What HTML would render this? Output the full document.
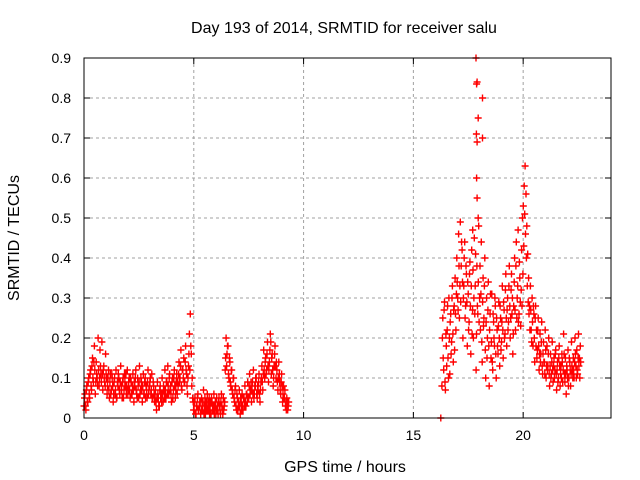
<!DOCTYPE html>
<html><head><meta charset="utf-8"><style>
html,body{margin:0;padding:0;background:#fff;}
svg{display:block;font-family:"Liberation Sans",sans-serif;}
</style></head><body>
<svg id="chart" width="640" height="480">
<text x="344" y="33" font-size="16" text-anchor="middle" fill="#000">Day 193 of 2014, SRMTID for receiver salu</text>
<text x="345" y="472" font-size="16" text-anchor="middle" fill="#000">GPS time / hours</text>
<text transform="translate(19,238) rotate(-90)" font-size="16" text-anchor="middle" fill="#000">SRMTID / TECUs</text>
<g id="grid"></g>
<g id="ticks"></g>
<g id="points"></g>
<rect x="84" y="58" width="527" height="360" fill="none" stroke="#000" stroke-width="1"/>
</svg>
<script>
const xTicks=[0,5,10,15,20];
const yTicks=[0,0.1,0.2,0.3,0.4,0.5,0.6,0.7,0.8,0.9];
const yTickLabels=["0","0.1","0.2","0.3","0.4","0.5","0.6","0.7","0.8","0.9"];
const seg1Range=[0.0,9.3];
const seg1Values=[
0.03,0.06,0.02,0.08,0.04,0.10,0.05,0.12,0.07,0.15,0.09,0.18,0.06,0.14,0.10,0.20,0.08,0.17,0.11,0.19,0.07,0.13,0.09,0.16,0.10,
0.08,0.12,0.05,0.11,0.07,0.10,0.04,0.09,0.06,0.12,0.05,0.08,0.10,0.06,0.13,0.07,0.09,0.05,0.11,0.08,0.06,0.12,0.07,0.10,0.05,
0.09,0.06,0.11,0.04,0.08,0.12,0.06,0.10,0.05,0.13,0.07,0.09,0.04,0.11,0.06,0.10,0.08,0.05,0.12,0.07,0.09,0.06,0.11,0.05,0.08,
0.04,0.07,0.02,0.09,0.05,0.03,0.08,0.06,0.10,0.04,0.07,0.12,0.05,0.09,0.13,0.06,0.11,0.08,0.04,0.10,0.07,0.12,0.05,0.09,0.06,
0.08,0.14,0.10,0.17,0.07,0.12,0.15,0.09,0.18,0.11,0.06,0.13,0.21,0.26,0.16,0.10,0.04,0.02,0.05,0.01,0.03,0.06,0.02,0.04,0.01,
0.05,0.02,0.07,0.03,0.01,0.04,0.06,0.02,0.05,0.03,0.01,0.04,0.02,0.06,0.03,0.01,0.05,0.02,0.04,0.03,0.01,0.06,0.02,0.05,0.03,
0.12,0.20,0.16,0.18,0.10,0.14,0.08,0.12,0.06,0.10,0.04,0.08,0.02,0.05,0.03,0.07,0.01,0.04,0.06,0.02,0.05,0.08,0.03,0.06,0.09,
0.05,0.11,0.07,0.04,0.09,0.12,0.06,0.08,0.10,0.05,0.07,0.11,0.04,0.09,0.13,0.07,0.17,0.10,0.15,0.12,0.19,0.09,0.14,0.21,0.11,
0.16,0.08,0.13,0.18,0.10,0.12,0.07,0.14,0.09,0.06,0.11,0.04,0.08,0.05,0.03,0.02,0.04,0.03
];
const seg1Values2=[
0.05,0.03,0.07,0.04,0.09,0.06,0.11,0.08,0.13,0.10,0.14,0.12,0.09,0.11,0.08,0.12,0.10,0.13,0.09,0.11,0.12,0.10,0.08,0.11,0.06,
0.10,0.07,0.09,0.06,0.11,0.08,0.06,0.10,0.07,0.05,0.09,0.11,0.07,0.09,0.08,0.05,0.10,0.07,0.09,0.11,0.08,0.06,0.09,0.07,0.10,
0.06,0.08,0.07,0.09,0.10,0.07,0.05,0.08,0.09,0.06,0.10,0.07,0.08,0.06,0.09,0.05,0.07,0.09,0.06,0.08,0.10,0.07,0.05,0.09,0.06,
0.06,0.04,0.05,0.06,0.03,0.07,0.05,0.04,0.06,0.08,0.05,0.07,0.09,0.06,0.08,0.10,0.07,0.06,0.09,0.05,0.10,0.08,0.07,0.11,0.09,
0.11,0.09,0.13,0.08,0.12,0.10,0.09,0.14,0.12,0.08,0.10,0.16,0.12,0.18,0.08,0.05,0.02,0.04,0.01,0.03,0.05,0.02,0.03,0.04,0.02,
0.03,0.04,0.01,0.05,0.03,0.02,0.04,0.03,0.01,0.04,0.05,0.02,0.03,0.01,0.04,0.02,0.03,0.01,0.05,0.02,0.04,0.03,0.01,0.02,0.04,
0.15,0.13,0.18,0.11,0.15,0.09,0.12,0.07,0.10,0.05,0.07,0.03,0.06,0.02,0.04,0.03,0.05,0.02,0.03,0.05,0.03,0.04,0.06,0.04,0.05,
0.08,0.06,0.09,0.07,0.06,0.05,0.08,0.10,0.06,0.08,0.09,0.06,0.07,0.10,0.09,0.11,0.12,0.14,0.11,0.16,0.13,0.12,0.17,0.19,0.15,
0.12,0.10,0.16,0.13,0.14,0.09,0.10,0.11,0.07,0.09,0.08,0.06,0.05,0.07,0.04,0.05,0.02,0.04
];
const seg2Range=[16.3,22.6];
const seg2Values=[
0.08,0.25,0.12,0.29,0.07,0.18,0.22,0.15,0.30,0.11,0.26,0.19,0.33,0.14,0.28,0.35,0.22,0.40,0.30,0.46,0.25,0.49,0.38,0.42,0.20,
0.33,0.44,0.28,0.36,0.18,0.31,0.24,0.39,0.16,0.42,0.27,0.20,0.45,0.33,0.12,0.38,0.26,0.48,0.30,0.22,0.44,0.14,0.35,0.25,0.40,
0.10,0.30,0.20,0.34,0.08,0.26,0.15,0.31,0.12,0.24,0.18,0.28,0.10,0.22,0.16,0.29,0.13,0.25,0.19,0.33,0.15,0.27,0.21,0.36,0.18,
0.30,0.24,0.38,0.20,0.32,0.26,0.16,0.28,0.40,0.22,0.44,0.30,0.47,0.26,0.35,0.23,0.42,0.50,0.53,0.58,0.63,0.56,0.48,0.41,0.35,
0.28,0.33,0.22,0.30,0.18,0.26,0.14,0.28,0.22,0.17,0.25,0.12,0.21,0.16,0.24,0.11,0.19,0.14,0.22,0.10,0.18,0.13,0.20,0.08,0.16,
0.11,0.19,0.09,0.15,0.12,0.17,0.07,0.14,0.10,0.18,0.08,0.13,0.16,0.09,0.21,0.11,0.15,0.06,0.12,0.17,0.10,0.14,0.08,0.19,0.12,
0.15,0.10,0.20,0.13,0.17,0.11,0.21,0.15,0.18
];
const seg2Values2=[
0.20,0.15,0.27,0.09,0.21,0.13,0.28,0.10,0.20,0.24,0.16,0.30,0.21,0.27,0.17,0.26,0.31,0.34,0.27,0.38,0.33,0.29,0.44,0.34,0.30,
0.40,0.25,0.38,0.29,0.34,0.22,0.36,0.28,0.33,0.21,0.37,0.30,0.26,0.41,0.21,0.28,0.34,0.24,0.38,0.31,0.19,0.29,0.23,0.33,0.17,
0.24,0.15,0.27,0.18,0.22,0.31,0.19,0.14,0.26,0.20,0.30,0.16,0.25,0.18,0.23,0.20,0.28,0.17,0.24,0.22,0.29,0.20,0.32,0.25,0.27,
0.22,0.33,0.28,0.25,0.36,0.30,0.21,0.34,0.27,0.38,0.25,0.33,0.24,0.39,0.29,0.32,0.28,0.36,0.43,0.51,0.46,0.40,0.33,0.29,0.26,
0.22,0.27,0.19,0.24,0.28,0.20,0.25,0.18,0.15,0.22,0.18,0.16,0.14,0.19,0.13,0.16,0.14,0.11,0.17,0.13,0.12,0.16,0.11,0.13,0.10,
0.14,0.12,0.13,0.10,0.16,0.11,0.12,0.09,0.15,0.13,0.11,0.10,0.14,0.12,0.16,0.09,0.11,0.13,0.10,0.08,0.15,0.12,0.11,0.13,0.10,
0.12,0.14,0.16,0.10,0.12,0.15,0.13,0.10,0.14
];
const outlierTimes=[17.85,17.9,17.88,18.15,17.95,17.87,18.15,17.9,17.88,17.9,17.95,17.7,16.25];
const outlierValues=[0.90,0.84,0.835,0.80,0.75,0.71,0.70,0.69,0.60,0.55,0.50,0.47,0.0];

const X0=84,X1=611,Y0=418,Y1=58,XMAX=24,YMAX=0.9;
function xs(t){return X0+(X1-X0)*t/XMAX;}
function ys(v){return Y0-(Y0-Y1)*v/YMAX;}
const NS='http://www.w3.org/2000/svg';
const grid=document.getElementById('grid'),ticks=document.getElementById('ticks'),pts=document.getElementById('points');
function mk(tag,attrs,parent){const e=document.createElementNS(NS,tag);for(const k in attrs)e.setAttribute(k,attrs[k]);parent.appendChild(e);return e;}
xTicks.forEach(function(t){
  const x=xs(t);
  if(t>0){const g=mk('line',{x1:x,x2:x,y1:Y1,y2:Y0,stroke:'#a0a0a0','stroke-dasharray':'3,3'},grid);
  
  }
  mk('line',{x1:x,x2:x,y1:Y0,y2:Y0-6,stroke:'#000'},ticks);
  mk('line',{x1:x,x2:x,y1:Y1,y2:Y1+6,stroke:'#000'},ticks);
  const l=mk('text',{x:x,y:Y0+22,'font-size':'14','text-anchor':'middle'},ticks);
  l.textContent=String(t);
  
  
});
yTicks.forEach(function(v,i){
  const y=ys(v);
  if(v>0&&v<YMAX){const g=mk('line',{x1:X0,x2:X1,y1:y,y2:y,stroke:'#a0a0a0','stroke-dasharray':'3,3'},grid);
  
  }
  mk('line',{x1:X0,x2:X0+6,y1:y,y2:y,stroke:'#000'},ticks);
  mk('line',{x1:X1,x2:X1-6,y1:y,y2:y,stroke:'#000'},ticks);
  const l=mk('text',{x:X0-13,y:y+5,'font-size':'14','text-anchor':'end'},ticks);
  l.textContent=yTickLabels[i];
  
  
});
let d='';
function plus(t,v){const x=xs(t),y=ys(v);d+='M'+(x-3.5).toFixed(1)+' '+y.toFixed(1)+'h7M'+x.toFixed(1)+' '+(y-3.5).toFixed(1)+'v7';}
function series(range,vals,off){const n=vals.length,st=(range[1]-range[0])/(n-1);vals.forEach(function(v,i){plus(range[0]+i*st+off*st,v);});}
series(seg1Range,seg1Values,0);
series(seg1Range,seg1Values2,0.5);
series(seg2Range,seg2Values,0);
series(seg2Range,seg2Values2,0.5);
outlierTimes.forEach(function(t,i){plus(t,outlierValues[i]);});
const p=mk('path',{d:d,stroke:'#ff0000','stroke-width':'1.4',fill:'none'},pts);


</script>
</body></html>
